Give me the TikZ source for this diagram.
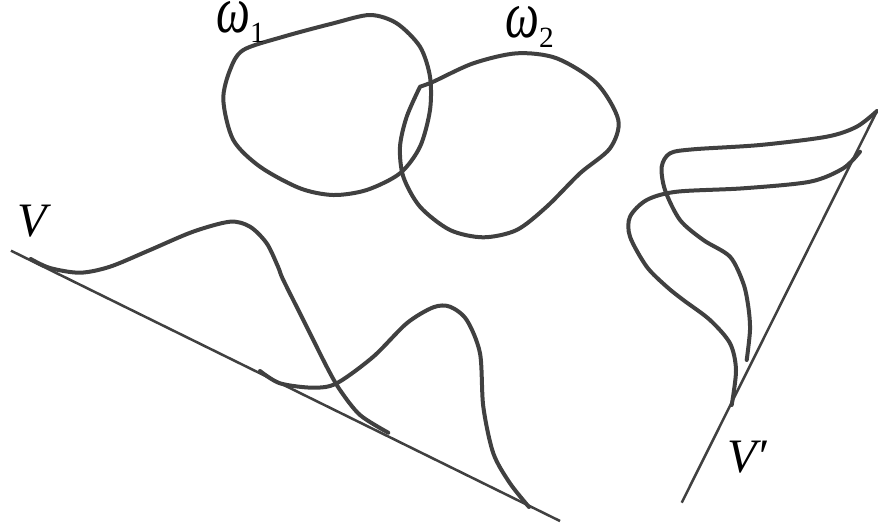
\documentclass[tikz,border=0pt]{standalone}
\usepackage{fontspec}
\setmainfont{Liberation Serif}
\definecolor{ink}{HTML}{404040}
\tikzset{
  curve/.style={draw=ink, line width=3pt, line cap=round, line join=round},
  baseline/.style={draw=ink, line width=1.9pt},
  lbl/.style={inner sep=0pt, anchor=base west, font=\fontsize{36}{36}\selectfont\itshape}
}
\newcommand{\omg}{\scalebox{1}[1.38]{ω}}
\newcommand{\subsc}[1]{\raisebox{-7.5pt}{\fontsize{22}{22}\selectfont\upshape #1}}
\begin{document}
\begin{tikzpicture}[x=0.75pt,y=-0.75pt]
\useasboundingbox (0,0) rectangle (878,522);
% base lines
\coordinate (va) at (11,250.7);
\coordinate (vb) at (560,521);
\coordinate (wa) at (681.7,502.7);
\coordinate (wb) at (877.5,110);
\draw[baseline] (va) -- (vb);
\draw[baseline] (wa) -- (wb);
% omega 1
\draw[curve] plot[smooth cycle] coordinates {(243.3,50) (283.3,36.7) (333.3,23.3) (370,15) (396.7,23.3) (420,46.7) (430,76.7) (430,110) (420,146.7) (400,173.3) (366.7,190) (333.3,195) (300,188.3) (260,166.7) (233.3,140) (223.3,100) (230,70)};
% omega 2
\draw[curve] plot[smooth] coordinates {(420,86.7) (433.3,81.7) (473.3,63.3) (516.7,53.3) (556.7,58.3) (596.7,83.3) (618.3,120) (610,148.3) (580,173.3) (546.7,206.7) (516.7,230) (483.3,237.3) (450,230) (420,206.7) (403.3,176.7) (400,146.7) (406.7,116.7) (420,86.7)};
% curves on V
\draw[curve] plot[smooth] coordinates {(30.7,259) (50,268) (80,272.7) (110,266.7) (150,250) (193,231.7) (230,221.7) (250,226.7) (266.7,243.3) (278,266.7) (283.3,280) (306.7,326.7) (326.7,366.7) (340,390) (360,415) (388.3,432.7)};
\draw[curve] plot[smooth] coordinates {(260,371) (280,383.3) (313,387.7) (336.7,383.3) (373.3,356.7) (406.7,323.3) (433.3,307.3) (450,306.7) (466.7,320) (480,353.3) (483.3,406.7) (493.3,453.3) (510,483.3) (529,507)};
% curves on V'
\draw[curve] plot[smooth] coordinates {(877,111) (856.7,126.7) (826.7,136.7) (760,145) (693.3,149.3) (670,153.3) (661.7,166.7) (665,190) (680,220) (703.3,240) (730,256.7) (743.3,283.3) (748.3,306.7) (750,330) (746.7,360)};
\draw[curve] plot[smooth] coordinates {(860,151.7) (843.3,168.3) (810,181.7) (743.3,188.3) (676.7,191.7) (646.7,200) (630,216.7) (630,236.7) (646.7,266.7) (666.7,286.7) (683.3,300) (710,320) (730,343.3) (736,370) (731.7,405)};
% labels
\node[lbl] (w1) at (216,32) {\omg\subsc{1}};
\node[lbl] (w2) at (505,37) {\omg\subsc{2}};
\node[lbl] (v) at (17,236.5) {V};
\node[lbl] (vp) at (727,472) {V\symbol{"2032}};
\end{tikzpicture}
\end{document}
